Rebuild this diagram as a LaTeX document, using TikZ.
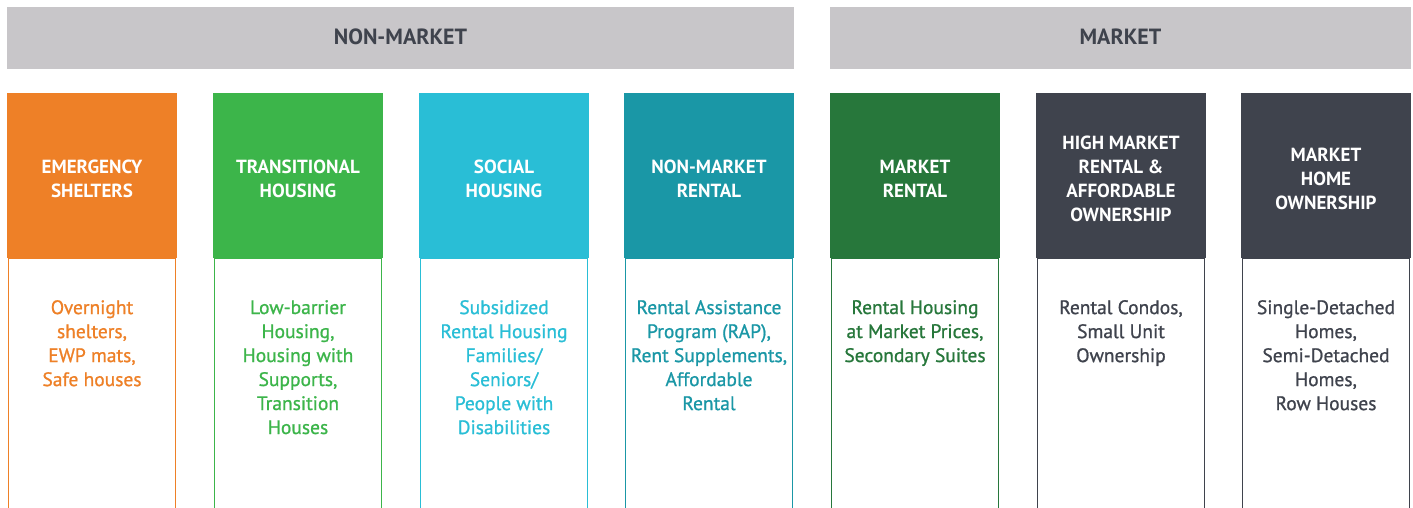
\documentclass[tikz,border=0pt]{standalone}
\usepackage{fontspec}
\setmainfont{PT Sans}
\newfontfamily\bodyfont[FakeBold=0.9]{PT Sans}
\definecolor{cOrange}{HTML}{EE8027}
\definecolor{cGreen}{HTML}{3CB54A}
\definecolor{cCyan}{HTML}{29BED6}
\definecolor{cTeal}{HTML}{1A97A6}
\definecolor{cDkGreen}{HTML}{27773B}
\definecolor{cGray}{HTML}{3F434D}
\definecolor{cBar}{HTML}{C8C6C9}
\tikzset{
  barbox/.style={fill=cBar, draw=none, minimum height=62pt, inner sep=0pt},
  bartext/.style={text=cGray, font=\bfseries\fontsize{22}{26}\selectfont},
  colhead/.style={draw=none, minimum width=170pt, minimum height=165pt, inner sep=0pt},
  headtext/.style={text=white, align=center, font=\bfseries\fontsize{19}{24}\selectfont, inner sep=0pt},
  bodybox/.style={draw, line width=1.8pt, minimum width=167pt, minimum height=254pt, inner sep=0pt},
  bodytext/.style={align=center, anchor=north, font=\bodyfont\fontsize{19.5}{24}\selectfont, inner sep=0pt}
}
\begin{document}
\begin{tikzpicture}[x=1pt,y=1pt]
\useasboundingbox (0,0) rectangle (1413,508);
\clip (0,0) rectangle (1413,508);
\fill[white] (0,0) rectangle (1413,508);
% top bars
\node[barbox, minimum width=787pt] (nm) at (400.5,470) {};
\node[bartext] (nmt) at (400.5,471) {NON-MARKET};
\node[barbox, minimum width=581pt] (mk) at (1120.5,470) {};
\node[bartext] (mkt) at (1120.5,471) {MARKET};
% columns: body boxes
\node[bodybox, draw=cOrange] (b1) at (92,123) {};
\node[bodybox, draw=cGreen] (b2) at (298,123) {};
\node[bodybox, draw=cCyan] (b3) at (504,123) {};
\node[bodybox, draw=cTeal] (b4) at (709,123) {};
\node[bodybox, draw=cDkGreen] (b5) at (915,123) {};
\node[bodybox, draw=cGray] (b6) at (1121,123) {};
\node[bodybox, draw=cGray] (b7) at (1326,123) {};
% column headers
\node[colhead, fill=cOrange] (h1) at (92,332.5) {};
\node[colhead, fill=cGreen] (h2) at (298,332.5) {};
\node[colhead, fill=cCyan] (h3) at (504,332.5) {};
\node[colhead, fill=cTeal] (h4) at (709,332.5) {};
\node[colhead, fill=cDkGreen] (h5) at (915,332.5) {};
\node[colhead, fill=cGray] (h6) at (1121,332.5) {};
\node[colhead, fill=cGray] (h7) at (1326,332.5) {};
% header texts
\node[headtext] (ht1) at (92,329) {EMERGENCY\\SHELTERS};
\node[headtext] (ht2) at (298,329) {TRANSITIONAL\\HOUSING};
\node[headtext] (ht3) at (504,329) {SOCIAL\\HOUSING};
\node[headtext] (ht4) at (709,329) {NON-MARKET\\RENTAL};
\node[headtext] (ht5) at (915,329) {MARKET\\RENTAL};
\node[headtext] (ht6) at (1121,329) {HIGH MARKET\\RENTAL \&\\AFFORDABLE\\OWNERSHIP};
\node[headtext] (ht7) at (1326,329) {MARKET\\HOME\\OWNERSHIP};
% body texts
\node[bodytext, text=cOrange] (t1) at (92,208) {Overnight\\shelters,\\EWP mats,\\Safe houses};
\node[bodytext, text=cGreen] (t2) at (298,208) {Low-barrier\\Housing,\\Housing with\\Supports,\\Transition\\Houses};
\node[bodytext, text=cCyan] (t3) at (504,208) {Subsidized\\Rental Housing\\Families/\\Seniors/\\People with\\Disabilities};
\node[bodytext, text=cTeal] (t4) at (709,208) {Rental Assistance\\Program (RAP),\\Rent Supplements,\\Affordable\\Rental};
\node[bodytext, text=cDkGreen] (t5) at (915,208) {Rental Housing\\at Market Prices,\\Secondary Suites};
\node[bodytext, text=cGray] (t6) at (1121,208) {Rental Condos,\\Small Unit\\Ownership};
\node[bodytext, text=cGray] (t7) at (1326,208) {Single-Detached\\Homes,\\Semi-Detached\\Homes,\\Row Houses};
\end{tikzpicture}
\end{document}
